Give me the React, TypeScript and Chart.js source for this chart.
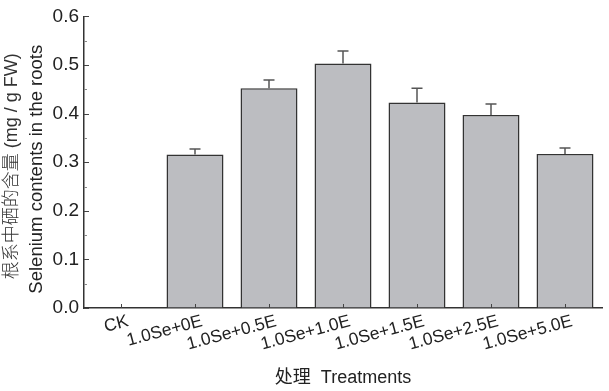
import React, { useEffect, useRef } from "react";
import { Chart, registerables } from "chart.js";
Chart.register(...registerables);

const categories = ["CK", "1.0Se+0E", "1.0Se+0.5E", "1.0Se+1.0E", "1.0Se+1.5E", "1.0Se+2.5E", "1.0Se+5.0E"];
const seleniumValues = [0, 0.316, 0.452, 0.503, 0.423, 0.397, 0.317];
const errorValues = [0, 0.011, 0.017, 0.026, 0.029, 0.023, 0.012];
const yMajorTicks = [0, 0.1, 0.2, 0.3, 0.4, 0.5, 0.6];
const yMinorTicks = [0.05, 0.15, 0.25, 0.35, 0.45, 0.55];
const yTitleChinese = "根系中硒的含量 (mg / g FW)";
const yTitleEnglish = "Selenium contents in the roots";
const xTitle = "处理  Treatments";

const FONT = '"Liberation Sans", Arial, "Noto Sans CJK SC", sans-serif';

const extrasPlugin = {
  id: "extras",
  afterDatasetsDraw(chart: any) {
    const ctx = chart.ctx;
    const xs = chart.scales.x;
    const ys = chart.scales.y;
    const meta = chart.getDatasetMeta(0);
    ctx.save();
    ctx.strokeStyle = "#555";
    ctx.lineWidth = 1.5;
    meta.data.forEach((bar: any, i: number) => {
      const e = errorValues[i];
      if (!e) return;
      const top = ys.getPixelForValue(seleniumValues[i] + e);
      ctx.beginPath();
      ctx.moveTo(bar.x, bar.y);
      ctx.lineTo(bar.x, top);
      ctx.moveTo(bar.x - 5.5, top);
      ctx.lineTo(bar.x + 5.5, top);
      ctx.stroke();
    });
    const left = chart.chartArea.left;
    const bottom = chart.chartArea.bottom;
    ctx.strokeStyle = "#444";
    ctx.lineWidth = 1;
    yMajorTicks.forEach((v) => {
      const py = Math.round(ys.getPixelForValue(v)) + 0.5;
      ctx.beginPath();
      ctx.moveTo(left, py);
      ctx.lineTo(left + 5, py);
      ctx.stroke();
    });
    ctx.strokeStyle = "#888";
    yMinorTicks.forEach((v) => {
      const py = Math.round(ys.getPixelForValue(v)) + 0.5;
      ctx.beginPath();
      ctx.moveTo(left, py);
      ctx.lineTo(left + 3, py);
      ctx.stroke();
    });
    ctx.strokeStyle = "#444";
    categories.forEach((c, i) => {
      const px = Math.round(xs.getPixelForValue(i)) + 0.5;
      ctx.beginPath();
      ctx.moveTo(px, bottom);
      ctx.lineTo(px, bottom - 4);
      ctx.stroke();
    });
    ctx.restore();

    // y-axis title (two lines)
    const midY = (chart.chartArea.top + chart.chartArea.bottom) / 2;
    ctx.save();
    ctx.textAlign = "center";
    ctx.textBaseline = "middle";
    ctx.save();
    ctx.translate(12, midY + 4);
    ctx.rotate(-Math.PI / 2);
    ctx.fillStyle = "#333";
    ctx.font = '300 18px "Liberation Sans", Arial, "Noto Sans CJK SC", sans-serif';
    ctx.fillText(yTitleChinese, 0, 0);
    ctx.restore();
    ctx.save();
    ctx.translate(37, midY + 7);
    ctx.rotate(-Math.PI / 2);
    ctx.fillStyle = "#222";
    ctx.font = '18.5px "Liberation Sans", Arial, sans-serif';
    ctx.fillText(yTitleEnglish, 0, 0);
    ctx.restore();
    ctx.restore();
  },
};

export default function App() {
  const ref = useRef<HTMLCanvasElement>(null);
  useEffect(() => {
    if (!ref.current) return;
    const chart = new Chart(ref.current, {
      type: "bar",
      data: {
        labels: categories,
        datasets: [
          {
            data: seleniumValues,
            backgroundColor: "#bcbdc1",
            borderColor: "#333",
            borderWidth: 1.5,
            borderSkipped: "bottom",
            categoryPercentage: 1,
            barPercentage: 0.77,
          },
        ],
      },
      options: {
        animation: false,
        responsive: true,
        maintainAspectRatio: false,
        layout: { padding: { top: 14, right: 7, left: 0, bottom: 0 } },
        plugins: { legend: { display: false }, tooltip: { enabled: false } },
        scales: {
          x: {
            grid: { display: true, drawOnChartArea: false, drawTicks: false },
            border: { display: true, color: "#333", width: 1.5 },
            ticks: {
              color: "#222",
              font: { family: FONT, size: 17.5 },
              minRotation: 15,
              maxRotation: 15,
              padding: 3,
              autoSkip: false,
              labelOffset: (c: any) => (c.index === 0 ? 2 : 7),
            },
            title: {
              display: true,
              text: xTitle,
              color: "#222",
              font: { family: FONT, size: 18 },
              padding: { top: 0, bottom: 2 },
            },
            afterFit: (s: any) => {
              s.height = 83;
            },
          },
          y: {
            min: 0,
            max: 0.6,
            grid: { display: true, drawOnChartArea: false, drawTicks: false },
            border: { display: true, color: "#333", width: 1.5 },
            ticks: {
              stepSize: 0.1,
              color: "#222",
              font: { family: FONT, size: 19 },
              padding: 5,
              callback: (v: any) => Number(v).toFixed(1),
            },
            title: { display: false },
            afterFit: (s: any) => {
              s.width = 84;
            },
          },
        },
      },
      plugins: [extrasPlugin],
    });
    return () => chart.destroy();
  }, []);
  return (
    <div style={{ position: "fixed", left: 0, top: 0, width: 609, height: 391, background: "#fff" }}>
      <canvas ref={ref} />
    </div>
  );
}
